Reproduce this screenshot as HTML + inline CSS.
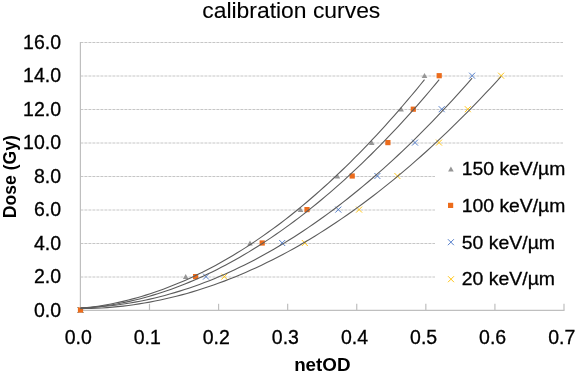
<!DOCTYPE html>
<html><head><meta charset="utf-8"><style>
html,body{margin:0;padding:0;background:#fff;}
body{width:575px;height:373px;overflow:hidden;font-family:"Liberation Sans",sans-serif;}
svg{display:block;filter:blur(0.35px);}
</style></head><body>
<svg width="575" height="373" viewBox="0 0 575 373">
<rect width="575" height="373" fill="#fff"/>
<line x1="80.4" y1="42.5" x2="563" y2="42.5" stroke="#c6c6c6" stroke-width="1" stroke-dasharray="3,1"/>
<line x1="80.4" y1="76.0" x2="563" y2="76.0" stroke="#c6c6c6" stroke-width="1" stroke-dasharray="3,1"/>
<line x1="80.4" y1="109.5" x2="563" y2="109.5" stroke="#c6c6c6" stroke-width="1" stroke-dasharray="3,1"/>
<line x1="80.4" y1="143.0" x2="563" y2="143.0" stroke="#c6c6c6" stroke-width="1" stroke-dasharray="3,1"/>
<line x1="80.4" y1="176.5" x2="563" y2="176.5" stroke="#c6c6c6" stroke-width="1" stroke-dasharray="3,1"/>
<line x1="80.4" y1="210.0" x2="563" y2="210.0" stroke="#c6c6c6" stroke-width="1" stroke-dasharray="3,1"/>
<line x1="80.4" y1="243.5" x2="563" y2="243.5" stroke="#c6c6c6" stroke-width="1" stroke-dasharray="3,1"/>
<line x1="80.4" y1="277.0" x2="563" y2="277.0" stroke="#c6c6c6" stroke-width="1" stroke-dasharray="3,1"/>
<line x1="80.4" y1="42" x2="80.4" y2="310.5" stroke="#bfbfbf" stroke-width="1.2"/>
<line x1="80" y1="310.4" x2="564.6" y2="310.4" stroke="#bfbfbf" stroke-width="1.2"/>
<line x1="149.49" y1="303.8" x2="149.49" y2="310" stroke="#bfbfbf" stroke-width="1.2"/>
<line x1="218.57" y1="303.8" x2="218.57" y2="310" stroke="#bfbfbf" stroke-width="1.2"/>
<line x1="287.66" y1="303.8" x2="287.66" y2="310" stroke="#bfbfbf" stroke-width="1.2"/>
<line x1="356.74" y1="303.8" x2="356.74" y2="310" stroke="#bfbfbf" stroke-width="1.2"/>
<line x1="425.83" y1="303.8" x2="425.83" y2="310" stroke="#bfbfbf" stroke-width="1.2"/>
<line x1="494.91" y1="303.8" x2="494.91" y2="310" stroke="#bfbfbf" stroke-width="1.2"/>
<line x1="564.00" y1="303.8" x2="564.00" y2="310" stroke="#bfbfbf" stroke-width="1.2"/>
<!--LEGEND-->
<path d="M77.50,307.00L83.50,313.00M77.50,313.00L83.50,307.00" stroke="#ffc000" stroke-width="0.9" fill="none"/>
<path d="M221.30,273.60L227.30,279.60M221.30,279.60L227.30,273.60" stroke="#ffc000" stroke-width="0.9" fill="none"/>
<path d="M301.80,240.00L307.80,246.00M301.80,246.00L307.80,240.00" stroke="#ffc000" stroke-width="0.9" fill="none"/>
<path d="M356.10,206.60L362.10,212.60M356.10,212.60L362.10,206.60" stroke="#ffc000" stroke-width="0.9" fill="none"/>
<path d="M394.40,173.00L400.40,179.00M394.40,179.00L400.40,173.00" stroke="#ffc000" stroke-width="0.9" fill="none"/>
<path d="M436.00,139.60L442.00,145.60M436.00,145.60L442.00,139.60" stroke="#ffc000" stroke-width="0.9" fill="none"/>
<path d="M464.80,106.20L470.80,112.20M464.80,112.20L470.80,106.20" stroke="#ffc000" stroke-width="0.9" fill="none"/>
<path d="M498.10,72.70L504.10,78.70M498.10,78.70L504.10,72.70" stroke="#ffc000" stroke-width="0.9" fill="none"/>
<path d="M77.50,307.00L83.50,313.00M77.50,313.00L83.50,307.00" stroke="#4472c4" stroke-width="0.9" fill="none"/>
<path d="M203.00,273.60L209.00,279.60M203.00,279.60L209.00,273.60" stroke="#4472c4" stroke-width="0.9" fill="none"/>
<path d="M279.20,240.00L285.20,246.00M279.20,246.00L285.20,240.00" stroke="#4472c4" stroke-width="0.9" fill="none"/>
<path d="M335.30,206.60L341.30,212.60M335.30,212.60L341.30,206.60" stroke="#4472c4" stroke-width="0.9" fill="none"/>
<path d="M374.40,173.00L380.40,179.00M374.40,179.00L380.40,173.00" stroke="#4472c4" stroke-width="0.9" fill="none"/>
<path d="M412.00,139.60L418.00,145.60M412.00,145.60L418.00,139.60" stroke="#4472c4" stroke-width="0.9" fill="none"/>
<path d="M438.70,106.20L444.70,112.20M438.70,112.20L444.70,106.20" stroke="#4472c4" stroke-width="0.9" fill="none"/>
<path d="M469.10,72.70L475.10,78.70M469.10,78.70L475.10,72.70" stroke="#4472c4" stroke-width="0.9" fill="none"/>
<path d="M77.70,312.40L80.50,307.40L83.30,312.40Z" fill="#969696"/>
<path d="M182.90,279.00L185.70,274.00L188.50,279.00Z" fill="#969696"/>
<path d="M247.20,245.40L250.00,240.40L252.80,245.40Z" fill="#969696"/>
<path d="M297.70,212.00L300.50,207.00L303.30,212.00Z" fill="#969696"/>
<path d="M334.60,178.40L337.40,173.40L340.20,178.40Z" fill="#969696"/>
<path d="M368.90,145.00L371.70,140.00L374.50,145.00Z" fill="#969696"/>
<path d="M398.30,111.60L401.10,106.60L403.90,111.60Z" fill="#969696"/>
<path d="M421.70,78.10L424.50,73.10L427.30,78.10Z" fill="#969696"/>
<rect x="77.90" y="307.40" width="5.2" height="5.2" fill="#ec6c1c"/>
<rect x="193.00" y="274.00" width="5.2" height="5.2" fill="#ec6c1c"/>
<rect x="259.60" y="240.40" width="5.2" height="5.2" fill="#ec6c1c"/>
<rect x="304.40" y="207.00" width="5.2" height="5.2" fill="#ec6c1c"/>
<rect x="349.60" y="173.40" width="5.2" height="5.2" fill="#ec6c1c"/>
<rect x="385.30" y="140.00" width="5.2" height="5.2" fill="#ec6c1c"/>
<rect x="410.70" y="106.60" width="5.2" height="5.2" fill="#ec6c1c"/>
<rect x="436.60" y="73.10" width="5.2" height="5.2" fill="#ec6c1c"/>
<polyline points="80.50,308.32 84.85,307.88 89.21,307.37 93.56,306.81 97.92,306.18 102.27,305.49 106.63,304.73 110.98,303.92 115.34,303.04 119.69,302.09 124.04,301.09 128.40,300.02 132.75,298.88 137.11,297.69 141.46,296.43 145.82,295.11 150.17,293.73 154.53,292.28 158.88,290.77 163.23,289.20 167.59,287.56 171.94,285.86 176.30,284.10 180.65,282.27 185.01,280.39 189.36,278.44 193.72,276.42 198.07,274.35 202.42,272.21 206.78,270.00 211.13,267.74 215.49,265.41 219.84,263.02 224.20,260.57 228.55,258.05 232.91,255.47 237.26,252.83 241.61,250.12 245.97,247.35 250.32,244.52 254.68,241.63 259.03,238.67 263.39,235.65 267.74,232.56 272.09,229.42 276.45,226.21 280.80,222.94 285.16,219.60 289.51,216.20 293.87,212.74 298.22,209.22 302.58,205.63 306.93,201.98 311.28,198.27 315.64,194.49 319.99,190.65 324.35,186.75 328.70,182.79 333.06,178.76 337.41,174.67 341.77,170.51 346.12,166.30 350.47,162.02 354.83,157.68 359.18,153.27 363.54,148.80 367.89,144.27 372.25,139.68 376.60,135.02 380.96,130.30 385.31,125.52 389.66,120.67 394.02,115.76 398.37,110.79 402.73,105.76 407.08,100.66 411.44,95.50 415.79,90.28 420.15,84.99 424.50,79.64" fill="none" stroke="#5c5c5c" stroke-width="1.1"/>
<polyline points="80.50,308.56 85.04,308.21 89.58,307.80 94.12,307.31 98.66,306.77 103.20,306.16 107.74,305.48 112.28,304.74 116.82,303.93 121.36,303.06 125.91,302.12 130.45,301.12 134.99,300.05 139.53,298.91 144.07,297.71 148.61,296.45 153.15,295.12 157.69,293.72 162.23,292.26 166.77,290.74 171.31,289.15 175.85,287.49 180.39,285.77 184.93,283.98 189.47,282.13 194.01,280.21 198.55,278.23 203.09,276.18 207.63,274.07 212.17,271.89 216.72,269.64 221.26,267.33 225.80,264.96 230.34,262.52 234.88,260.01 239.42,257.44 243.96,254.81 248.50,252.11 253.04,249.34 257.58,246.51 262.12,243.61 266.66,240.65 271.20,237.62 275.74,234.53 280.28,231.37 284.82,228.15 289.36,224.86 293.90,221.50 298.44,218.08 302.98,214.60 307.53,211.05 312.07,207.43 316.61,203.75 321.15,200.01 325.69,196.20 330.23,192.32 334.77,188.38 339.31,184.37 343.85,180.30 348.39,176.16 352.93,171.96 357.47,167.69 362.01,163.35 366.55,158.95 371.09,154.49 375.63,149.96 380.17,145.37 384.71,140.71 389.25,135.98 393.79,131.19 398.34,126.33 402.88,121.41 407.42,116.43 411.96,111.37 416.50,106.26 421.04,101.07 425.58,95.83 430.12,90.51 434.66,85.13 439.20,79.69" fill="none" stroke="#5c5c5c" stroke-width="1.1"/>
<polyline points="80.50,307.84 85.46,307.67 90.41,307.43 95.37,307.12 100.33,306.74 105.28,306.29 110.24,305.78 115.20,305.19 120.16,304.53 125.11,303.80 130.07,303.00 135.03,302.13 139.98,301.18 144.94,300.17 149.90,299.09 154.85,297.94 159.81,296.72 164.77,295.43 169.73,294.07 174.68,292.63 179.64,291.13 184.60,289.56 189.55,287.92 194.51,286.20 199.47,284.42 204.42,282.57 209.38,280.64 214.34,278.65 219.29,276.58 224.25,274.45 229.21,272.24 234.17,269.97 239.12,267.62 244.08,265.21 249.04,262.72 253.99,260.17 258.95,257.54 263.91,254.84 268.86,252.08 273.82,249.24 278.78,246.33 283.74,243.35 288.69,240.31 293.65,237.19 298.61,234.00 303.56,230.74 308.52,227.41 313.48,224.01 318.43,220.54 323.39,217.00 328.35,213.40 333.31,209.72 338.26,205.96 343.22,202.14 348.18,198.25 353.13,194.29 358.09,190.26 363.05,186.16 368.00,181.99 372.96,177.75 377.92,173.44 382.87,169.05 387.83,164.60 392.79,160.08 397.75,155.48 402.70,150.82 407.66,146.09 412.62,141.28 417.57,136.41 422.53,131.47 427.49,126.45 432.44,121.37 437.40,116.21 442.36,110.99 447.32,105.69 452.27,100.33 457.23,94.89 462.19,89.38 467.14,83.81 472.10,78.16" fill="none" stroke="#5c5c5c" stroke-width="1.1"/>
<polyline points="80.50,308.62 85.82,308.56 91.15,308.43 96.47,308.22 101.80,307.94 107.12,307.59 112.44,307.16 117.77,306.65 123.09,306.08 128.42,305.43 133.74,304.70 139.06,303.91 144.39,303.04 149.71,302.09 155.04,301.07 160.36,299.98 165.68,298.81 171.01,297.57 176.33,296.26 181.66,294.87 186.98,293.41 192.31,291.87 197.63,290.26 202.95,288.58 208.28,286.82 213.60,284.99 218.93,283.08 224.25,281.11 229.57,279.05 234.90,276.93 240.22,274.73 245.55,272.45 250.87,270.11 256.19,267.68 261.52,265.19 266.84,262.62 272.17,259.98 277.49,257.26 282.81,254.47 288.14,251.61 293.46,248.67 298.79,245.65 304.11,242.57 309.43,239.41 314.76,236.18 320.08,232.87 325.41,229.49 330.73,226.03 336.05,222.50 341.38,218.90 346.70,215.22 352.03,211.47 357.35,207.65 362.67,203.75 368.00,199.78 373.32,195.74 378.65,191.62 383.97,187.42 389.29,183.16 394.62,178.82 399.94,174.40 405.27,169.91 410.59,165.35 415.92,160.71 421.24,156.01 426.56,151.22 431.89,146.36 437.21,141.43 442.54,136.43 447.86,131.35 453.18,126.20 458.51,120.97 463.83,115.67 469.16,110.30 474.48,104.85 479.80,99.33 485.13,93.73 490.45,88.06 495.78,82.32 501.10,76.50" fill="none" stroke="#5c5c5c" stroke-width="1.1"/>
<rect x="435" y="152" width="140" height="148" fill="#fff"/>
<path d="M448.10,171.40L450.90,166.40L453.70,171.40Z" fill="#969696"/>
<rect x="448.00" y="202.80" width="5.2" height="5.2" fill="#ec6c1c"/>
<path d="M447.90,239.20L453.90,245.20M447.90,245.20L453.90,239.20" stroke="#4472c4" stroke-width="0.9" fill="none"/>
<path d="M448.00,276.20L454.00,282.20M448.00,282.20L454.00,276.20" stroke="#ffc000" stroke-width="0.9" fill="none"/>
<g font-family="Liberation Sans, sans-serif" fill="#000" stroke="#000" stroke-width="0.3">
<text x="202.3" y="17.7" font-size="21.5" stroke-width="0.1" textLength="178" lengthAdjust="spacingAndGlyphs">calibration curves</text>
<text x="61" y="316.6" text-anchor="end" font-size="19.5">0.0</text>
<text x="61" y="283.1" text-anchor="end" font-size="19.5">2.0</text>
<text x="61" y="249.6" text-anchor="end" font-size="19.5">4.0</text>
<text x="61" y="216.1" text-anchor="end" font-size="19.5">6.0</text>
<text x="61" y="182.6" text-anchor="end" font-size="19.5">8.0</text>
<text x="61" y="149.1" text-anchor="end" font-size="19.5">10.0</text>
<text x="61" y="115.6" text-anchor="end" font-size="19.5">12.0</text>
<text x="61" y="82.1" text-anchor="end" font-size="19.5">14.0</text>
<text x="61" y="48.6" text-anchor="end" font-size="19.5">16.0</text>
<text x="78.2" y="343.8" text-anchor="middle" font-size="19.5">0.0</text>
<text x="147.3" y="343.8" text-anchor="middle" font-size="19.5">0.1</text>
<text x="216.3" y="343.8" text-anchor="middle" font-size="19.5">0.2</text>
<text x="285.4" y="343.8" text-anchor="middle" font-size="19.5">0.3</text>
<text x="354.5" y="343.8" text-anchor="middle" font-size="19.5">0.4</text>
<text x="423.6" y="343.8" text-anchor="middle" font-size="19.5">0.5</text>
<text x="492.6" y="343.8" text-anchor="middle" font-size="19.5">0.6</text>
<text x="561.7" y="343.8" text-anchor="middle" font-size="19.5">0.7</text>
<text x="322.3" y="371.3" text-anchor="middle" font-size="18.8" font-weight="bold" stroke-width="0">netOD</text>
<text transform="translate(15.7,176.7) rotate(-90)" x="0" y="0" text-anchor="middle" font-size="17.6" font-weight="bold" stroke-width="0">Dose (Gy)</text>
<text x="461.8" y="174.8" font-size="18.4" textLength="103.5" lengthAdjust="spacingAndGlyphs">150 keV/µm</text>
<text x="461.8" y="211.7" font-size="18.4" textLength="103.5" lengthAdjust="spacingAndGlyphs">100 keV/µm</text>
<text x="461.8" y="248.8" font-size="18.4" textLength="93.2" lengthAdjust="spacingAndGlyphs">50 keV/µm</text>
<text x="461.8" y="285.0" font-size="18.4" textLength="93.2" lengthAdjust="spacingAndGlyphs">20 keV/µm</text>
</g>
</svg>
</body></html>
